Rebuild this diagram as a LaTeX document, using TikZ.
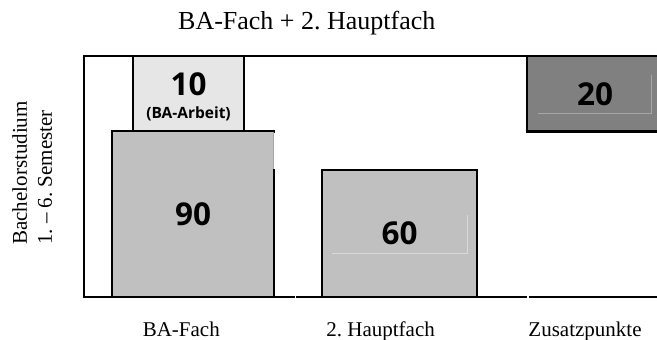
\documentclass[tikz,border=0pt]{standalone}
\usepackage{fontspec}
\setmainfont{Liberation Serif}
\newfontfamily\numfont{Open Sans}
\usepackage{tikz}

\definecolor{barlight}{HTML}{E6E6E6}
\definecolor{barmid}{HTML}{C0C0C0}
\definecolor{bardark}{HTML}{808080}
\definecolor{seamlight}{HTML}{D9D9D9}
\definecolor{seamdark}{HTML}{A6A6A6}

\begin{document}
\frenchspacing
\begin{tikzpicture}[x=1pt,y=-1pt,
    box/.style={draw,line width=2pt,inner sep=0pt,font=\numfont\bfseries\fontsize{31.5}{31.5}\selectfont},
    num/.style={inner sep=0pt,font=\numfont\bfseries\fontsize{31.5}{31.5}\selectfont},
    caption/.style={inner sep=0pt,anchor=base,font=\fontsize{21}{21}\selectfont},
    seam/.style={line width=0.8pt}]
  \useasboundingbox (0,0) rectangle (657,340);
  \node[inner sep=0pt,anchor=base,font=\fontsize{26}{26}\selectfont] (title) at (306.8,29.3) {BA-Fach + 2. Hauptfach};
  % side text
  \node[caption,rotate=90,anchor=base west] (studium) at (27,245) {Bachelorstudium};
  \node[caption,rotate=90,anchor=base west] (semester) at (52,245) {1. – 6. Semester};
  % bars
  \node[box,fill=barlight,minimum width=111pt,minimum height=75pt] (arbeit) at (188.5,93.5) {};
  \node[box,fill=barmid,minimum width=162pt,minimum height=166pt] (bafach) at (193,214) {90};
  \node[box,fill=barmid,minimum width=155pt,minimum height=127pt] (haupt) at (399.5,233.5) {60};
  \node[box,fill=bardark,line width=2.5pt,minimum width=136pt,minimum height=75.5pt] (zusatz) at (595,93.75) {20};
  \node[num,anchor=base] (zehn) at ([yshift=-1.5pt]arbeit.center) {10};
  \node[num,anchor=base,font=\numfont\bfseries\fontsize{15.5}{15.5}\selectfont] (baarbeit) at ([yshift=-25pt]arbeit.center) {(BA-Arbeit)};
  \draw[white,line width=2.2pt] (274,132.5) -- (274,169);
  \draw[seam,seamdark] (273.2,132) -- (273.2,169);
  \draw[seam,seamlight] (332,253.3) -- (467.3,253.3) -- (467.3,215);
  \draw[seam,seamdark] (537.5,113.3) -- (651,113.3) -- (651,75);
  % frame
  \draw[line width=2pt] (84,297) -- (84,56) -- (670,56);
  \draw[line width=2pt] (83,297) -- (294.8,297);
  \draw[line width=2pt] (296.4,297) -- (526.7,297);
  \draw[line width=2pt] (529,297) -- (670,297);
  \node[caption] (lbafach) at (181.3,336.5) {BA-Fach};
  \node[caption] (lhaupt) at (380.6,336.5) {2. Hauptfach};
  \node[caption] (lzusatz) at (585,336.5) {Zusatzpunkte};
\end{tikzpicture}
\end{document}
